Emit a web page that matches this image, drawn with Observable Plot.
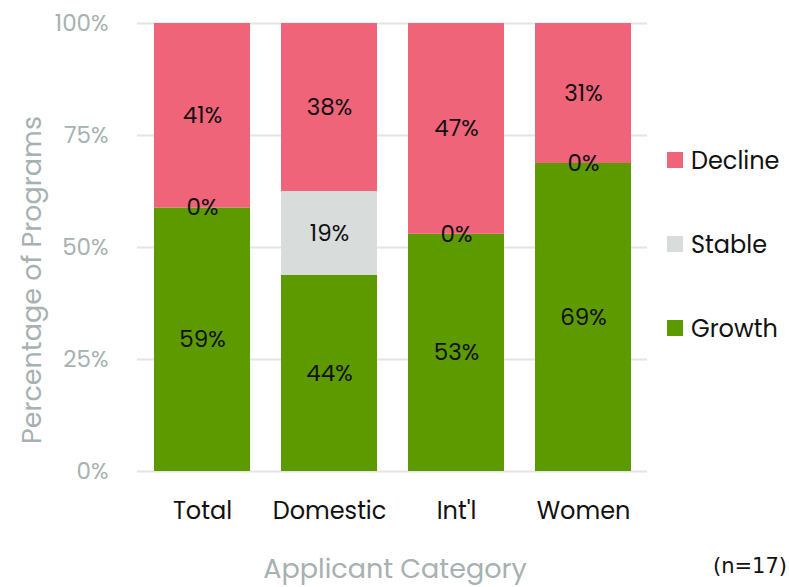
<!DOCTYPE html>
<html>
<head>
<meta charset="utf-8">
<script src="https://cdn.jsdelivr.net/npm/d3@7"></script>
<script src="https://cdn.jsdelivr.net/npm/@observablehq/plot@0.6"></script>
<style>
  html, body { margin: 0; padding: 0; background: #fff; }
  #chart { width: 789px; height: 587px; }
</style>
</head>
<body>
<div id="chart"></div>
<script>
const categories = ["Total", "Domestic", "Int'l", "Women"];
const growth = [58.82, 43.75, 52.94, 68.75];
const stable = [0, 18.75, 0, 0];
const decline = [41.18, 37.5, 47.06, 31.25];
const statuses = ["Growth", "Stable", "Decline"];
const legendOrder = ["Decline", "Stable", "Growth"];
const colors = ["#5C9A00", "#D8DCDB", "#EF6479"];
const yTicks = [0, 25, 50, 75, 100];

const FONT = "Poppins, Inter, 'Noto Sans', sans-serif";
const GRAY = "#A7B1B1";

const series = [growth, stable, decline];
const data = [];
categories.forEach((c, i) => {
  statuses.forEach((s, j) => {
    data.push({category: c, status: s, value: series[j][i]});
  });
});

const W = 789, H = 587;
const mL = 137, mR = 142, mT = 23, mB = 116;

const plot = Plot.plot({
  width: W,
  height: H,
  marginLeft: mL,
  marginRight: mR,
  marginTop: mT,
  marginBottom: mB,
  style: {fontFamily: FONT, fontSize: "23px", background: "white"},
  x: {domain: categories, paddingInner: 0.247, paddingOuter: 0.1235, label: null},
  y: {domain: [0, 100], label: null},
  color: {domain: statuses, range: colors},
  marks: [
    Plot.ruleY(yTicks, {stroke: "#E4E4E4", strokeWidth: 2}),
    Plot.barY(data, {x: "category", y: "value", fill: "status", z: "status", inset: 0}),
    Plot.text(data, Plot.stackY({
      x: "category", y: "value", z: "status",
      text: d => Math.round(d.value) + "%",
      fill: "#111", fontSize: 23
    })),
    Plot.axisY({
      ticks: yTicks, tickFormat: d => d + "%", tickSize: 0, tickPadding: 29,
      color: GRAY, fontSize: 23, label: null
    }),
    Plot.axisX({
      tickSize: 0, tickPadding: 30, fill: "#111", fontSize: 24, label: null
    })
  ]
});

document.getElementById("chart").appendChild(plot);

const svg = d3.select(plot);
// axis titles
svg.append("text")
  .attr("transform", "translate(31,280) rotate(-90)")
  .attr("text-anchor", "middle")
  .attr("dominant-baseline", "central")
  .attr("fill", GRAY)
  .style("font-family", FONT)
  .style("font-size", "27px")
  .text("Percentage of Programs");

svg.append("text")
  .attr("x", 395).attr("y", 568)
  .attr("text-anchor", "middle")
  .attr("dominant-baseline", "central")
  .attr("fill", GRAY)
  .style("font-family", FONT)
  .style("font-size", "27px")
  .text("Applicant Category");

svg.append("text")
  .attr("x", 787).attr("y", 566)
  .attr("text-anchor", "end")
  .attr("dominant-baseline", "central")
  .attr("fill", "#111")
  .style("font-family", "'DejaVu Sans', Verdana, sans-serif")
  .style("font-size", "21px")
  .text("(n=17)");

// legend
const colorScale = plot.scale("color");
const legendY = [160, 244, 328];
legendOrder.forEach((s, i) => {
  const g = svg.append("g");
  g.append("rect")
    .attr("x", 667).attr("y", legendY[i] - 8)
    .attr("width", 16).attr("height", 16)
    .attr("fill", colorScale.apply(s));
  g.append("text")
    .attr("x", 691).attr("y", legendY[i])
    .attr("text-anchor", "start")
    .attr("dominant-baseline", "central")
    .attr("fill", "#111")
    .style("font-family", FONT)
    .style("font-size", "24px")
    .text(s);
});
</script>
</body>
</html>
